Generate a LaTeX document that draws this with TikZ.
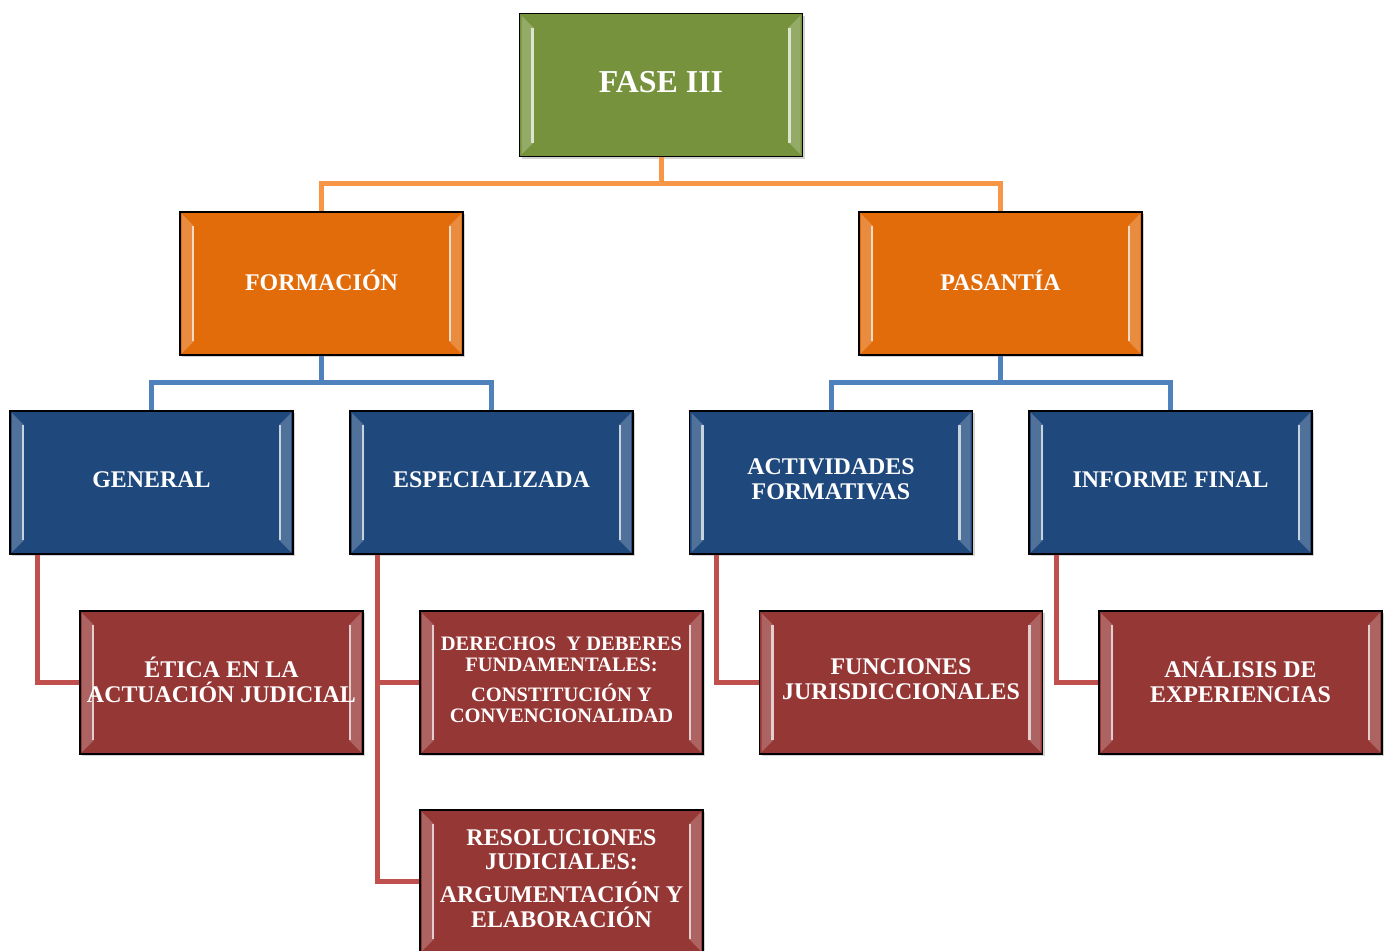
\documentclass[tikz,border=0pt]{standalone}
\usepackage{fontspec}
\setmainfont{Liberation Serif}
\usetikzlibrary{positioning,shadows}

\definecolor{fasegreen}{HTML}{76923C}
\definecolor{ramaorange}{HTML}{E36C0A}
\definecolor{ramablue}{HTML}{1F497D}
\definecolor{temared}{HTML}{953735}
\definecolor{lineorange}{HTML}{F79646}
\definecolor{lineblue}{HTML}{4F81BD}
\definecolor{linered}{HTML}{C0504D}

% light side strips of the bevelled boxes
\newcommand{\bevelsides}[1]{%
	\fill[white!22!#1]
		([xshift=1bp,yshift=-1bp]path picture bounding box.north west) -- ++(6bp,-6bp)
		-- ([xshift=7bp,yshift=7bp]path picture bounding box.south west) -- ++(-6bp,-6bp) -- cycle;
	\fill[white!22!#1]
		([xshift=-1bp,yshift=-1bp]path picture bounding box.north east) -- ++(-6bp,-6bp)
		-- ([xshift=-7bp,yshift=7bp]path picture bounding box.south east) -- ++(6bp,-6bp) -- cycle;
	\draw[white!75!#1, line width=1.1bp]
		([xshift=6.5bp,yshift=-7bp]path picture bounding box.north west)
		-- ([xshift=6.5bp,yshift=7bp]path picture bounding box.south west);
	\draw[white!75!#1, line width=1.1bp]
		([xshift=-6.5bp,yshift=-7bp]path picture bounding box.north east)
		-- ([xshift=-6.5bp,yshift=7bp]path picture bounding box.south east);
}

\begin{document}
\begin{tikzpicture}[x=0.5bp, y=-0.5bp,
	box/.style={draw=black, line width=.8bp, fill=#1, minimum width=141.5bp, minimum height=71.5bp,
		inner sep=1bp, align=center, text=white, text depth=3bp, font=\bfseries\fontsize{12}{12.5}\selectfont,
		path picture={\bevelsides{#1}}, drop shadow={shadow xshift=1bp, shadow yshift=-1.2bp, opacity=.35}},
	small/.style={font=\bfseries\fontsize{10.3}{10.8}\selectfont},
	link/.style={line width=2.5bp, draw=#1}]

	\useasboundingbox (0,0) rectangle (1387,950);

	\node ({fase}) at (661,85) [box=fasegreen, font=\bfseries\fontsize{16}{18}\selectfont] {FASE III};

	\node ({form}) at (321.5,283.5) [box=ramaorange] {FORMACIÓN};
	\node ({pas}) at (1000.5,283.5) [box=ramaorange] {PASANTÍA};

	\node ({gen}) at (151.5,482.5) [box=ramablue] {GENERAL};
	\node ({esp}) at (491.5,482.5) [box=ramablue] {ESPECIALIZADA};
	\node ({act}) at (831,482.5) [box=ramablue] {ACTIVIDADES\\FORMATIVAS};
	\node ({inf}) at (1170.5,482.5) [box=ramablue] {INFORME FINAL};

	\node ({etica}) at (221.5,682.5) [box=temared] {ÉTICA EN LA\\ACTUACIÓN JUDICIAL};
	\node ({der}) at (561.5,682.5) [box=temared, small] {DERECHOS\ \ Y DEBERES\\FUNDAMENTALES:\\[4bp]CONSTITUCIÓN Y\\CONVENCIONALIDAD};
	\node ({res}) at (561.5,881.5) [box=temared] {RESOLUCIONES\\JUDICIALES:\\[4bp]ARGUMENTACIÓN Y\\ELABORACIÓN};
	\node ({fun}) at (901,682.5) [box=temared] {FUNCIONES\\JURISDICCIONALES};
	\node ({ana}) at (1240.5,682.5) [box=temared] {ANÁLISIS DE\\EXPERIENCIAS};

	\draw[link=lineorange] (fase.south) -- ++(0,26) -| (form.north);
	\draw[link=lineorange] (fase.south) -- ++(0,26) -| (pas.north);
	\draw[link=lineblue] (form.south) -- ++(0,27) -| (gen.north);
	\draw[link=lineblue] (form.south) -- ++(0,27) -| (esp.north);
	\draw[link=lineblue] (pas.south) -- ++(0,27) -| (act.north);
	\draw[link=lineblue] (pas.south) -- ++(0,27) -| (inf.north);

	%red branches leave the blue boxes near their left side
	\draw[link=linered] ([xshift=14bp]gen.south west) |- (etica.west);
	\draw[link=linered] ([xshift=14bp]esp.south west) |- (der.west);
	\draw[link=linered] ([xshift=14bp]esp.south west) |- (res.west);
	\draw[link=linered] ([xshift=14bp]act.south west) |- (fun.west);
	\draw[link=linered] ([xshift=14bp]inf.south west) |- (ana.west);
\end{tikzpicture}
\end{document}
